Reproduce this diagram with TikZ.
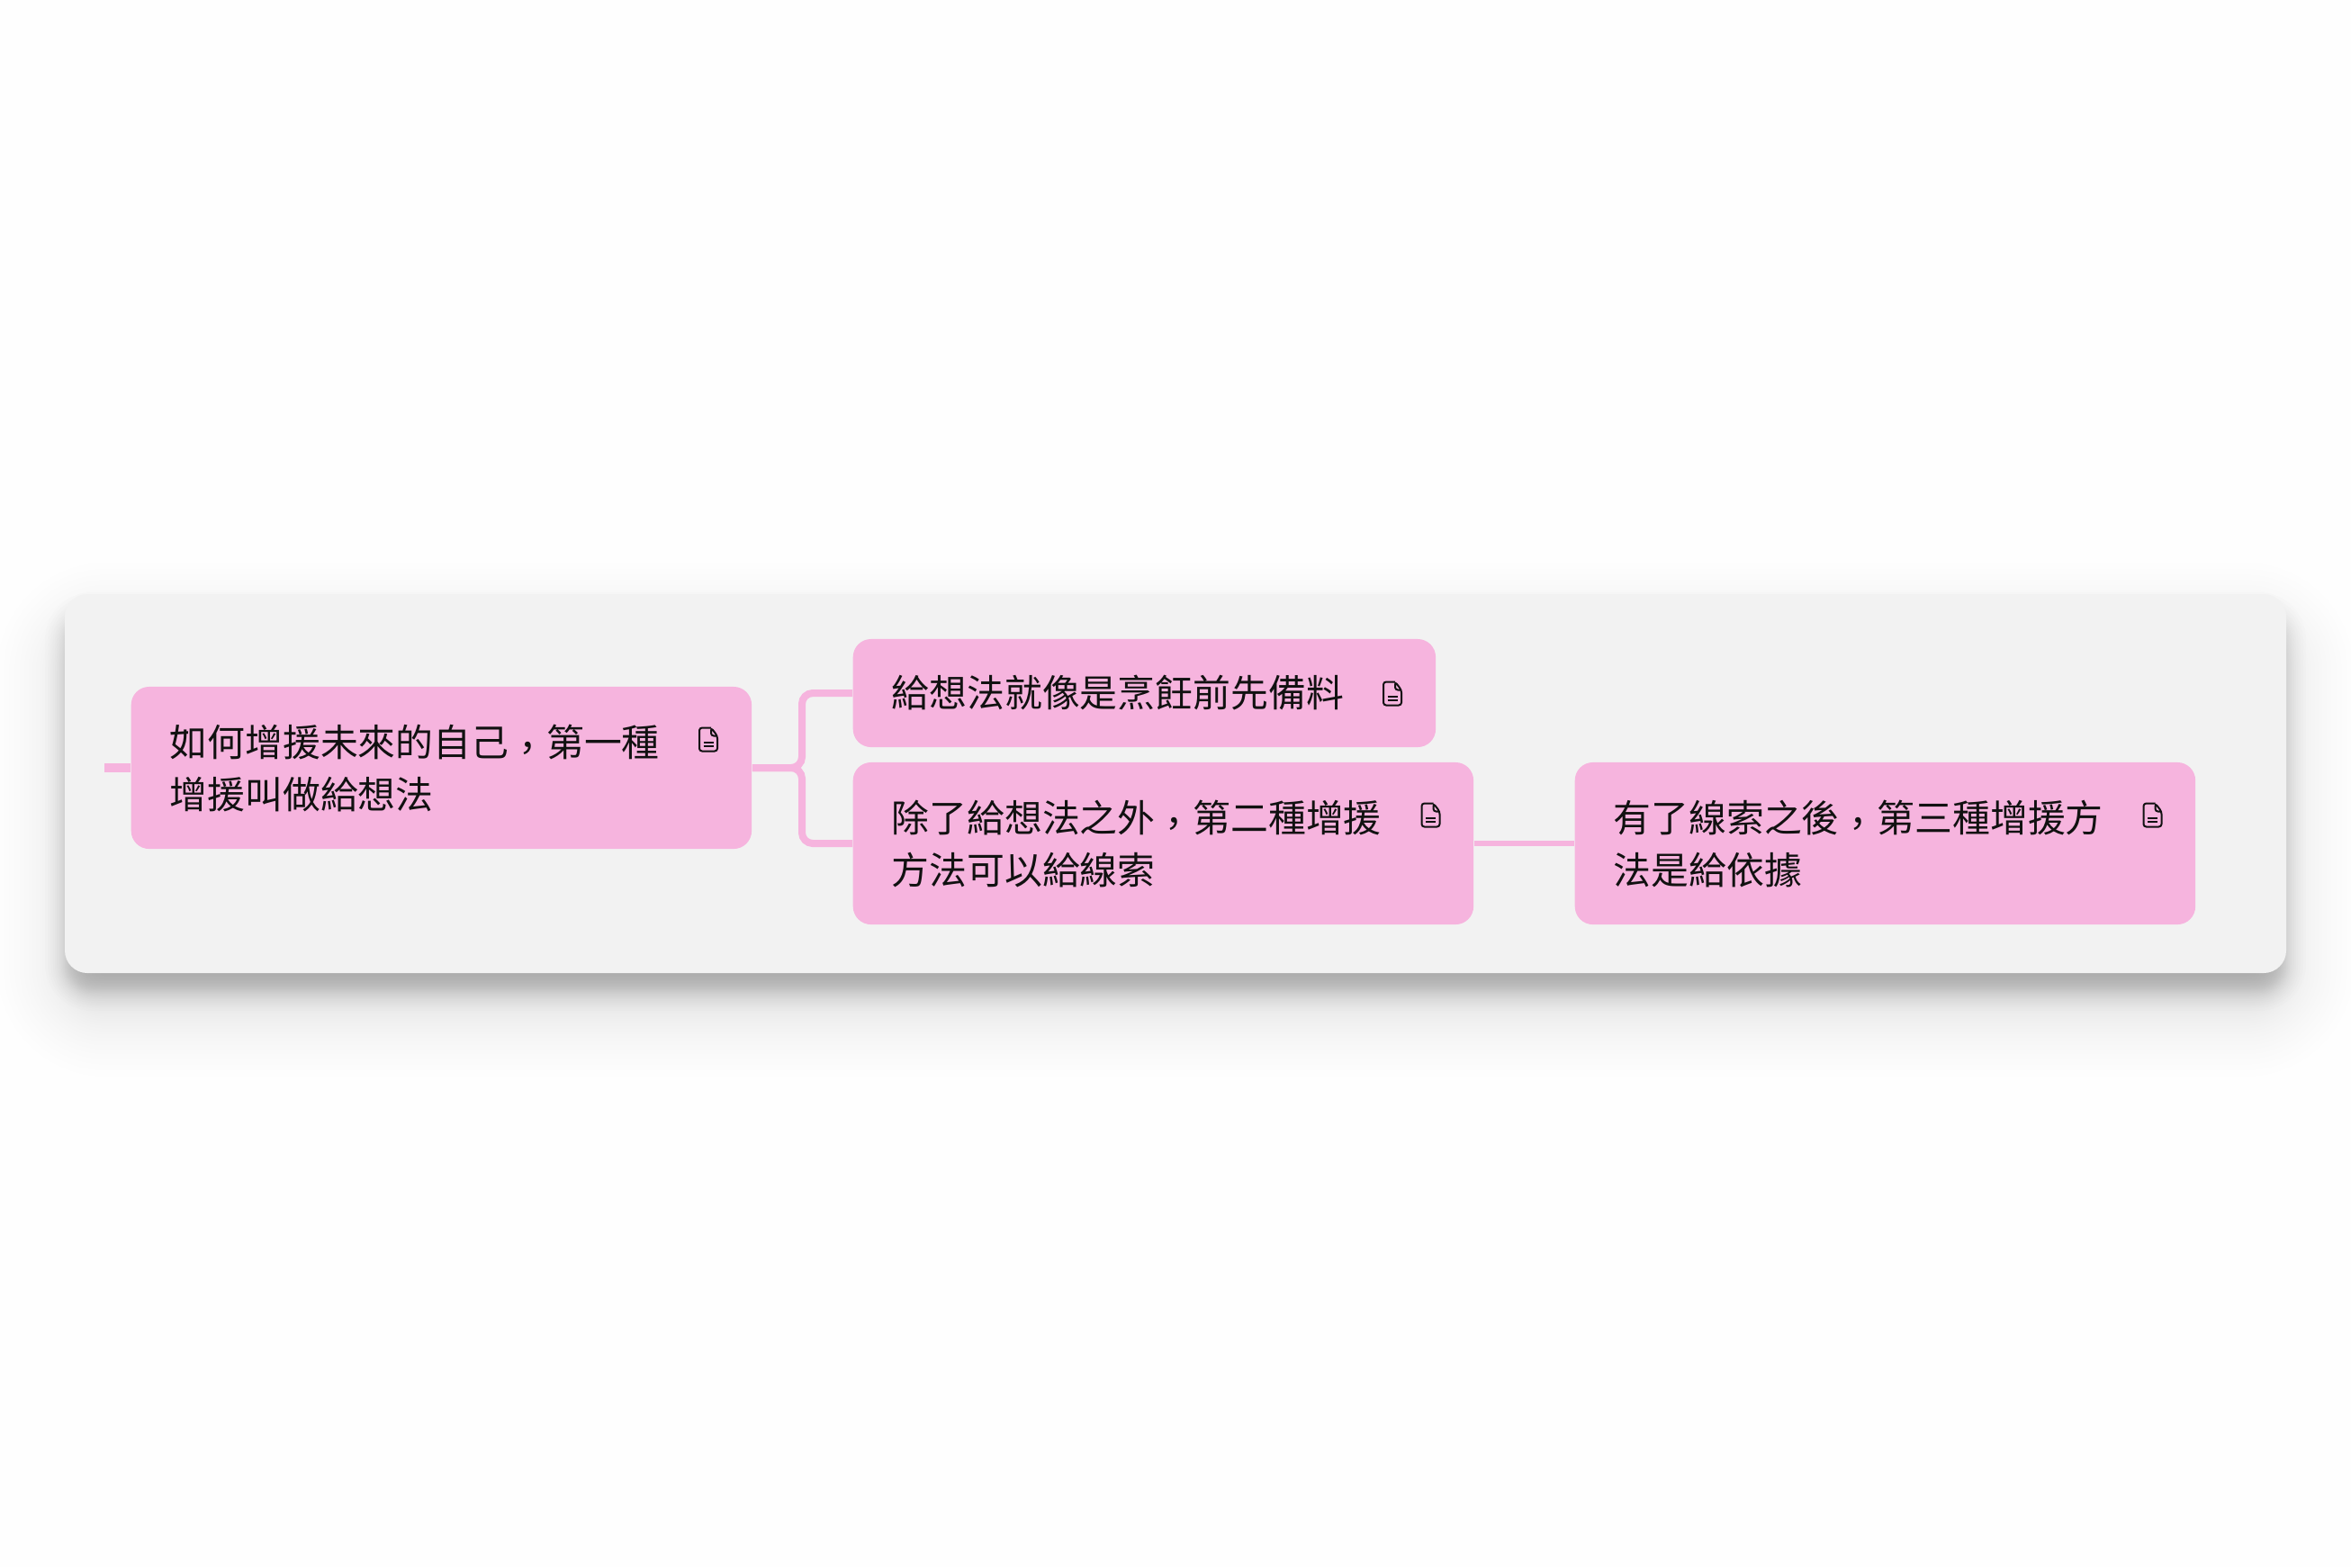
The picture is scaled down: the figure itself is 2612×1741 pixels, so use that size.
\documentclass[tikz,border=0pt]{standalone}
\usepackage{xcolor}
\usepackage{fontspec}
\usetikzlibrary{positioning}
\newfontfamily\cjk{Noto Sans CJK TC}
\newcommand{\lowcomma}{\raisebox{-0.16em}{，}}

\begin{document}
\begin{tikzpicture}[x=0.01cm,y=-0.01cm,
  topicbox/.style={fill=colTopic, rounded corners=0.2cm, anchor=west, inner xsep=0.43cm, inner ysep=0pt,
    minimum height=1.8cm, text width=6.03cm, align=left, text=colInk,
    font=\cjk\fontsize{11.9}{16.5}\selectfont},
  link/.style={draw=colTopic, line width=0.08cm, rounded corners=0.12cm},
  pics/noteicon/.style={code={
    \draw[colInk, line width=0.02cm, line join=round, rounded corners=0.03cm]
      (3,-13) -- (-10,-13) -- (-10,13) -- (10,13) -- (10,-4) -- (3,-13) -- (3,-4) -- (10,-4);
    \draw[colInk, line width=0.018cm] (-5.5,3.5) -- (5.5,3.5) (-5.5,7.5) -- (5.5,7.5);
  }}]

% Colours
\definecolor{colPanel}{HTML}{F2F2F2}
\definecolor{colTopic}{HTML}{F6B4DE}
\definecolor{colInk}{HTML}{111111}
\definecolor{colPage}{HTML}{FEFEFE}

% Page
\fill[colPage] (0,0) rectangle (2612,1741);
\useasboundingbox (0,0) rectangle (2612,1741);

% Wide shadow
\foreach \i in {-20,...,20} {
  \pgfmathsetmacro{\s}{75*(0.55*\i/20+0.45*(\i/20)*(\i/20)*(\i/20))}
  \pgfmathsetmacro{\rad}{max(0.1,0.45+0.01*\s)}
  \fill[black, opacity=0.004, rounded corners=\rad cm]
    (72-\s,700-\s) rectangle (2540+\s,1121+\s);
}

% Tight shadow
\foreach \i in {-12,...,12} {
  \pgfmathsetmacro{\s}{22*(0.55*\i/12+0.45*(\i/12)*(\i/12)*(\i/12))}
  \pgfmathsetmacro{\rad}{max(0.1,0.3+0.01*\s)}
  \fill[black, opacity=0.008, rounded corners=\rad cm]
    (72-\s,680-\s) rectangle (2540+\s,1101+\s);
}

% Panel
\fill[colPanel, rounded corners=0.25cm] (72,660) rectangle (2540,1081);

% Topics
\node[topicbox] (topicFirst) at (145,853) {如何增援未來的自己\lowcomma 第一種\\增援叫做給想法};
\node[topicbox, text width=5.61cm, minimum height=1.2cm] (topicIdeas) at (947,770) {給想法就像是烹飪前先備料};
\node[topicbox] (topicClues) at (947,937) {除了給想法之外\lowcomma 第二種增援\\方法可以給線索};
\node[topicbox] (topicProof) at (1749,937) {有了線索之後\lowcomma 第三種增援方\\法是給依據};

% Connectors
\coordinate (stub) at (116,853);
\coordinate (fork) at (891,853);
\draw[link, line width=0.1cm] (stub) -- (topicFirst.west);
\draw[link] (topicFirst.east) -- (fork) |- (topicIdeas.west);
\draw[link] (topicFirst.east) -- (fork) |- (topicClues.west);
\draw[link, line width=0.06cm] (topicClues.east) -- (topicProof.west);

% Note icons
\pic at (787,821.5) {noteicon};
\pic at (1547,770.5) {noteicon};
\pic at (1589.5,905.5) {noteicon};
\pic at (2391.5,905.5) {noteicon};

\end{tikzpicture}
\end{document}
